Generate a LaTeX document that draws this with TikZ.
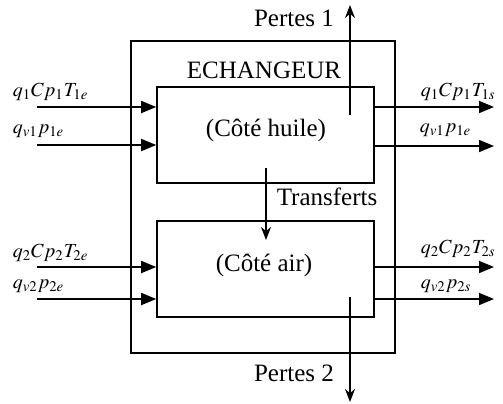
\documentclass[tikz,border=0pt]{standalone}
\usepackage{mathptmx}
\usepackage{fontspec}
\setmainfont{Liberation Serif}
\usepackage{tikz}
\usetikzlibrary{arrows.meta}

\begin{document}
\begin{tikzpicture}[x=0.5pt, y=-0.5pt, line width=0.8pt,
    font=\fontsize{12.5}{15}\selectfont,
    box/.style={draw, rectangle, inner sep=0pt, minimum width=108.5pt, minimum height=48pt},
    grandeur/.style={anchor=west, inner sep=0pt, font=\fontsize{10}{12}\selectfont},
    flux/.style={-{Triangle[length=7.5pt, width=6pt]}},
    perte/.style={-{Stealth[length=6.5pt, width=5pt]}}]
    \useasboundingbox (0, 0) rectangle (503, 403);
    \node[draw, rectangle, inner sep=0pt, minimum width=132pt, minimum height=156pt] (echangeur) at (263, 197) {};
    \node (titre) at (264, 70) {ECHANGEUR};
    \node[box] (huile) at (265.5, 135) {};
    \node[box] (air) at (265.5, 269) {};
    \node (huiletxt) at (266, 130) {(Côté huile)};
    \node (airtxt) at (264, 265) {(Côté air)};
    % entrees
    \coordinate (e1) at (37, 107);
    \coordinate (e2) at (37, 145);
    \coordinate (e3) at (37, 267);
    \coordinate (e4) at (37, 299);
    \draw[flux] (e1) -- (e1 -| huile.west);
    \draw[flux] (e2) -- (e2 -| huile.west);
    \draw[flux] (e3) -- (e3 -| air.west);
    \draw[flux] (e4) -- (e4 -| air.west);
    \node[grandeur] (le1) at (12, 92) {$q_1Cp_1T_{1e}$};
    \node[grandeur] (le2) at (12, 131) {$q_{v1}p_{1e}$};
    \node[grandeur] (le3) at (12, 253) {$q_2Cp_2T_{2e}$};
    \node[grandeur] (le4) at (12, 286) {$q_{v2}p_{2e}$};
    % sorties
    \coordinate (s1) at (494, 107);
    \coordinate (s2) at (494, 146);
    \coordinate (s3) at (494, 267);
    \coordinate (s4) at (494, 299);
    \draw[flux] (s1 -| huile.east) -- (s1);
    \draw[flux] (s2 -| huile.east) -- (s2);
    \draw[flux] (s3 -| air.east) -- (s3);
    \draw[flux] (s4 -| air.east) -- (s4);
    \node[grandeur] (ls1) at (420, 92) {$q_1Cp_1T_{1s}$};
    \node[grandeur] (ls2) at (419, 130) {$q_{v1}p_{1e}$};
    \node[grandeur] (ls3) at (420, 249) {$q_2Cp_2T_{2s}$};
    \node[grandeur] (ls4) at (420, 286) {$q_{v2}p_{2s}$};
    % pertes et transferts
    \coordinate (p1a) at (350, 115);
    \coordinate (p1b) at (350, 5);
    \coordinate (p2a) at (350, 297);
    \coordinate (p2b) at (350, 402);
    \coordinate (ta) at (266, 168);
    \coordinate (tb) at (266, 240);
    \draw[perte] (p1a) -- (p1b);
    \draw[perte] (p2a) -- (p2b);
    \draw[perte] (ta) -- (tb);
    \node (lp1) at (294, 18) {Pertes 1};
    \node (lp2) at (294, 373) {Pertes 2};
    \node[anchor=west, inner sep=0pt] (lt) at (276, 197) {Transferts};
\end{tikzpicture}
\end{document}
